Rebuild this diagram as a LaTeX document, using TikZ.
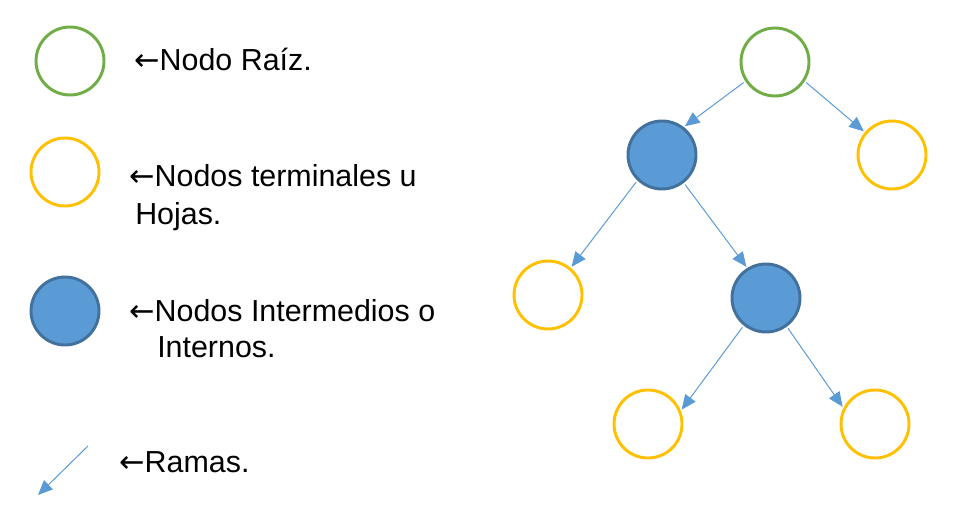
\documentclass[tikz,border=0pt]{standalone}
\usepackage{fontspec}
\setmainfont{Liberation Sans}
\newfontfamily\flechafont{DejaVu Sans}
\newcommand{\flecha}{{\flechafont ←}}
\usetikzlibrary{arrows.meta}
\definecolor{raizgreen}{HTML}{70AD47}
\definecolor{hojagold}{HTML}{FFC000}
\definecolor{nodoblue}{HTML}{5B9BD5}
\definecolor{nodoborde}{HTML}{41719C}

\begin{document}
\begin{tikzpicture}[x=0.75pt, y=-0.75pt,
    nodo/.style={circle, minimum size=51pt, inner sep=0pt, line width=2.2pt},
    raiz/.style={nodo, draw=raizgreen},
    hoja/.style={nodo, draw=hojagold},
    interno/.style={nodo, draw=nodoborde, fill=nodoblue},
    rama/.style={draw=nodoblue, line width=0.75pt, -{Triangle[length=11pt, width=9.5pt]},
      shorten <=1.5pt, shorten >=1pt},
    leyenda/.style={anchor=base west, inner sep=0pt, font=\fontsize{22.8}{27}\selectfont}]
  \useasboundingbox (0,0) rectangle (977,513);
  % legend
  \node[raiz] (leyRaiz) at (70,61) {};
  \node[hoja] (leyHoja) at (65,172) {};
  \node[interno] (leyInterno) at (65,311) {};
  \coordinate (ramaIni) at (88,446);
  \coordinate (ramaFin) at (38,495);
  \draw[rama, shorten <=0pt, shorten >=0pt] (ramaIni) -- (ramaFin);
  \node[leyenda] (txtRaiz) at (134,71) {\flecha Nodo Raíz.};
  \node[leyenda] (txtHoja) at (129,187) {\flecha Nodos terminales u};
  \node[leyenda] (txtHojaB) at (135,224) {Hojas.};
  \node[leyenda] (txtInterno) at (129,321) {\flecha Nodos Intermedios o};
  \node[leyenda] (txtInternoB) at (157,357) {Internos.};
  \node[leyenda] (txtRama) at (119,472) {\flecha Ramas.};
  % tree
  \node[raiz] (raizA) at (775,62) {};
  \node[interno] (internoA) at (662,155) {};
  \node[hoja] (hojaA) at (892,155) {};
  \node[hoja] (hojaB) at (548,295) {};
  \node[interno] (internoB) at (766,298) {};
  \node[hoja] (hojaC) at (648,424) {};
  \node[hoja] (hojaD) at (875,424) {};
  \draw[rama] (raizA.213) -- (internoA.52);
  \draw[rama] (raizA.327) -- (hojaA.140);
  \draw[rama] (internoA.226) -- (hojaB.50);
  \draw[rama] (internoA.308) -- (internoB.122);
  \draw[rama] (internoB.231) -- (hojaC.22);
  \draw[rama] (internoB.306) -- (hojaD.153);
\end{tikzpicture}
\end{document}
